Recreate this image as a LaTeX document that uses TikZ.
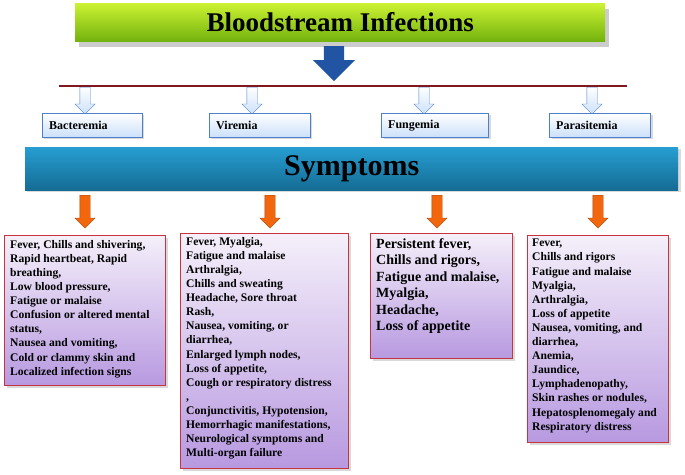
\documentclass[tikz,border=0pt]{standalone}
\usepackage{fontspec}
\setmainfont{Liberation Serif}
\usetikzlibrary{shapes.arrows,shadows,positioning}

\definecolor{titletop}{rgb}{0.80,0.95,0.20}
\definecolor{titlebot}{rgb}{0.45,0.70,0.05}
\definecolor{symtop}{rgb}{0.15,0.62,0.82}
\definecolor{symbot}{rgb}{0.08,0.42,0.58}
\definecolor{catfill}{rgb}{0.80,0.88,0.98}
\definecolor{catline}{rgb}{0.30,0.50,0.80}
\definecolor{bigblue}{rgb}{0.13,0.33,0.64}
\definecolor{orangearr}{rgb}{0.95,0.40,0.05}
\definecolor{boxtop}{rgb}{0.96,0.94,0.98}
\definecolor{boxbot}{rgb}{0.72,0.60,0.88}
\definecolor{boxline}{rgb}{0.78,0.20,0.25}
\definecolor{barline}{rgb}{0.50,0.10,0.12}

\tikzset{
  catbox/.style={draw=catline, top color=white, bottom color=catfill, drop shadow={opacity=0.3},
    minimum height=24pt, anchor=north west, inner sep=0pt},
  cattext/.style={anchor=west, font=\bfseries\fontsize{12}{14}\selectfont, inner sep=0pt},
  darrow/.style={single arrow, shape border rotate=270, minimum height=34pt,
    single arrow head extend=5pt, inner sep=5pt, anchor=north},
  symbox/.style={draw=boxline, thick, top color=boxtop, bottom color=boxbot, drop shadow={opacity=0.3},
    anchor=north west, inner sep=0pt},
  symtext/.style={anchor=north west, align=left, inner sep=0pt,
    font=\bfseries\fontsize{11.6}{14.1}\selectfont},
}

\begin{document}
\begin{tikzpicture}[x=1pt,y=-1pt]
  \useasboundingbox (0,0) rectangle (685,474);
  % title
  \node [top color=titletop, bottom color=titlebot, drop shadow={opacity=0.4, shadow xshift=4pt, shadow yshift=-6pt},
    minimum width=530pt, minimum height=38pt, anchor=north west, inner sep=0pt,
    font=\bfseries\fontsize{27}{29}\selectfont] (title) at (75,3) {Bloodstream Infections};
  \node [single arrow, shape border rotate=270, fill=bigblue, minimum height=35pt,
    single arrow head extend=11pt, inner sep=10pt, anchor=north] (main) at (334,46) {};
  % bar
  \coordinate (barl) at (59,86);
  \coordinate (barr) at (627,86);
  \draw [barline, line width=2.5pt] (barl) -- (barr);
  % categories
  \foreach \x/\w/\name/\lab in {42/100/bac/Bacteremia, 209/101/vir/Viremia, 381/107/fun/Fungemia, 549/101/par/Parasitemia}{
    \node [darrow, draw=catline, top color=white, bottom color=catfill, minimum height=27pt] (a\name) at (\x+43,87) {};
    \node [catbox, minimum width=\w pt] (\name) at (\x,113) {};
    \node [cattext] (l\name) at ([xshift=7pt]\name.west) {\lab};
  }
  % symptoms band
  \node [top color=symtop, bottom color=symbot, drop shadow={opacity=0.3},
    minimum width=653pt, minimum height=43pt, anchor=north west, inner sep=0pt,
    font=\bfseries\fontsize{30}{32}\selectfont] (sym) at (25,147) {Symptoms};
  \foreach \x/\name in {85/o1, 270/o2, 437/o3, 598/o4}
    \node [darrow, fill=orangearr, draw=orangearr!70!black, minimum height=33pt] (\name) at (\x,195) {};
  % symptom boxes
  \node [symbox, minimum width=161pt, minimum height=150pt] (b1) at (4,235) {};
  \node [symtext] (t1) at ([xshift=6pt,yshift=-5pt]b1.north west)
    {Fever, Chills and shivering,\\Rapid heartbeat, Rapid\\breathing,\\Low blood pressure,\\Fatigue or malaise\\Confusion or altered mental\\status,\\Nausea and vomiting,\\Cold or clammy skin and\\Localized infection signs};
  \node [symbox, minimum width=168pt, minimum height=235pt] (b2) at (180,233) {};
  \node [symtext] (t2) at ([xshift=6pt,yshift=-4pt]b2.north west)
    {Fever, Myalgia,\\Fatigue and malaise\\Arthralgia,\\Chills and sweating\\Headache, Sore throat\\Rash,\\Nausea, vomiting, or\\diarrhea,\\Enlarged lymph nodes,\\Loss of appetite,\\Cough or respiratory distress\\,\\Conjunctivitis, Hypotension,\\Hemorrhagic manifestations,\\Neurological symptoms and\\Multi-organ failure};
  \node [symbox, minimum width=142pt, minimum height=125pt] (b3) at (370,233) {};
  \node [symtext, font=\bfseries\fontsize{14}{16.5}\selectfont] (t3) at ([xshift=6pt,yshift=-5pt]b3.north west)
    {Persistent fever,\\Chills and rigors,\\Fatigue and malaise,\\Myalgia,\\Headache,\\Loss of appetite};
  \node [symbox, minimum width=141pt, minimum height=207pt] (b4) at (527,235) {};
  \node [symtext] (t4) at ([xshift=5pt,yshift=-4pt]b4.north west)
    {Fever,\\Chills and rigors\\Fatigue and malaise\\Myalgia,\\Arthralgia,\\Loss of appetite\\Nausea, vomiting, and\\diarrhea,\\Anemia,\\Jaundice,\\Lymphadenopathy,\\Skin rashes or nodules,\\Hepatosplenomegaly and\\Respiratory distress};
\end{tikzpicture}
\end{document}
